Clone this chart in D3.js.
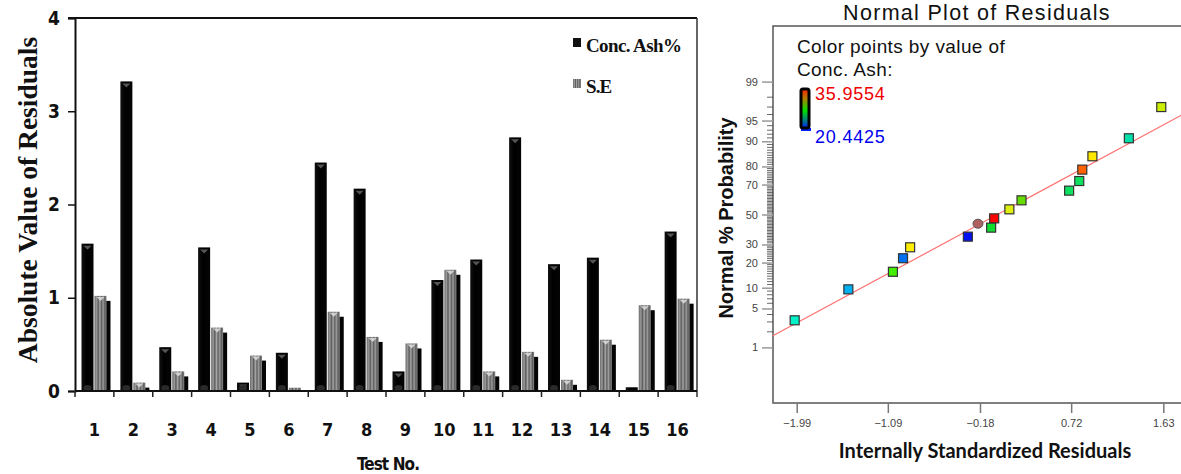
<!DOCTYPE html>
<html>
<head>
<meta charset="utf-8">
<script src="https://cdn.jsdelivr.net/npm/d3@7"></script>
<style>
  body { margin: 0; background: #fff; }
  svg { display: block; }
</style>
</head>
<body>
<svg id="chart"></svg>
<script>
// ---------- left chart data ----------
const testNo = ["1","2","3","4","5","6","7","8","9","10","11","12","13","14","15","16"];
const concAsh = [1.58, 3.32, 0.47, 1.54, 0.09, 0.41, 2.45, 2.17, 0.21, 1.19, 1.41, 2.72, 1.36, 1.43, 0.04, 1.71];
const seVals  = [1.02, 0.09, 0.21, 0.68, 0.38, 0.035, 0.85, 0.58, 0.51, 1.30, 0.21, 0.42, 0.12, 0.55, 0.92, 0.99];
const yTicksLeft = [0, 1, 2, 3, 4];

// ---------- right chart data ----------
const resid    = [1.61, 1.29, 0.93, 0.83, 0.80, 0.70, 0.23, 0.11, -0.04, -0.20, -0.07, -0.30, -0.87, -0.94, -1.04, -1.48, -2.01];
const normProb = [97.0, 90.9, 84.6, 78.4, 72.1, 66.2, 59.8, 53.6, 47.3, 43.6, 40.9, 34.9, 28.3, 22.2, 15.8, 9.5, 3.2];
const ptColor  = ["#ccee00","#00e0a8","#ffe800","#ff6000","#10e060","#10e060","#66dd00","#ddee10","#ff0000","#b06060","#10dd30","#0010ee","#ffee00","#0070f0","#44ee00","#00b0f0","#00f0c8"];
const ptShape  = ["s","s","s","s","s","s","s","s","s","c","s","s","s","s","s","s","s"];
const fitResid = [-2.23, 1.81];
const fitProb  = [1.67, 95.9];
const probTicks = [1, 5, 10, 20, 30, 50, 70, 80, 90, 95, 99];
const residTicks = [-1.99, -1.09, -0.18, 0.72, 1.63];
const colorMax = "35.9554", colorMin = "20.4425";

// inverse normal cdf (Acklam)
function probit(p) {
  const a = [-39.69683028665376, 220.9460984245205, -275.9285104469687, 138.3577518672690, -30.66479806614716, 2.506628277459239];
  const b = [-54.47609879822406, 161.5858368580409, -155.6989798598866, 66.80131188771972, -13.28068155288572];
  const c = [-0.007784894002430293, -0.3223964580411365, -2.400758277161838, -2.549732539343734, 4.374664141464968, 2.938163982698783];
  const d = [0.007784695709041462, 0.3224671290700398, 2.445134137142996, 3.754408661907416];
  const pl = 0.02425;
  let q, r;
  if (p < pl) {
    q = Math.sqrt(-2 * Math.log(p));
    return (((((c[0]*q+c[1])*q+c[2])*q+c[3])*q+c[4])*q+c[5]) / ((((d[0]*q+d[1])*q+d[2])*q+d[3])*q+1);
  } else if (p <= 1 - pl) {
    q = p - 0.5; r = q*q;
    return (((((a[0]*r+a[1])*r+a[2])*r+a[3])*r+a[4])*r+a[5])*q / (((((b[0]*r+b[1])*r+b[2])*r+b[3])*r+b[4])*r+1);
  } else {
    q = Math.sqrt(-2 * Math.log(1 - p));
    return -(((((c[0]*q+c[1])*q+c[2])*q+c[3])*q+c[4])*q+c[5]) / ((((d[0]*q+d[1])*q+d[2])*q+d[3])*q+1);
  }
}

const svg = d3.select("#chart").attr("width", 1181).attr("height", 474);
const defs = svg.append("defs");

// striped gray for S.E bars
const grayGrad = defs.append("linearGradient").attr("id", "grayStripe").attr("x1", 0).attr("x2", 1).attr("y1", 0).attr("y2", 0);
[["0%","#6a6a6a"],["18%","#9a9a9a"],["30%","#5a5a5a"],["45%","#a8a8a8"],["58%","#606060"],["72%","#9c9c9c"],["86%","#5c5c5c"],["100%","#8a8a8a"]]
  .forEach(s => grayGrad.append("stop").attr("offset", s[0]).attr("stop-color", s[1]));

const blackGrad = defs.append("linearGradient").attr("id", "blackBar").attr("x1", 0).attr("x2", 1).attr("y1", 0).attr("y2", 0);
[["0%","#111"],["40%","#000"],["100%","#050505"]]
  .forEach(s => blackGrad.append("stop").attr("offset", s[0]).attr("stop-color", s[1]));

// ================= LEFT: bar chart =================
const xL = d3.scaleBand().domain(testNo).range([75, 697]);
const yL = d3.scaleLinear().domain([0, 4]).range([391, 18]);
const bw = 12;

const left = svg.append("g");

// frame top + right
left.append("line").attr("x1", 68).attr("x2", 697).attr("y1", yL(4)).attr("y2", yL(4))
  .attr("stroke", "#111").attr("stroke-width", 2);
left.append("line").attr("x1", 697).attr("x2", 697).attr("y1", yL(4)).attr("y2", yL(0) + 6)
  .attr("stroke", "#333").attr("stroke-width", 1.5);

// shadows of gray bars
left.selectAll(".se-shadow").data(seVals).join("rect")
  .attr("x", (d, i) => xL(testNo[i]) + 19.5 + bw - 1)
  .attr("y", d => Math.min(yL(d) + 5, yL(0) - 1))
  .attr("width", 5)
  .attr("height", d => Math.max(yL(0) - yL(d) - 5, 1))
  .attr("fill", "#050505");

// gray bars
left.selectAll(".se-bar").data(seVals).join("rect")
  .attr("x", (d, i) => xL(testNo[i]) + 19.5)
  .attr("y", d => yL(d))
  .attr("width", bw)
  .attr("height", d => yL(0) - yL(d))
  .attr("fill", "url(#grayStripe)");

left.selectAll(".se-tri").data(seVals).join("path")
  .attr("d", (d, i) => {
    const cx = xL(testNo[i]) + 19.5 + bw / 2, t = yL(d) + 1;
    return `M${cx - 4},${t}L${cx + 4},${t}L${cx},${t + 4}Z`;
  })
  .attr("fill", "#d8d8d8")
  .attr("opacity", d => yL(0) - yL(d) > 6 ? 0.9 : 0);

// black bars
left.selectAll(".ash-bar").data(concAsh).join("rect")
  .attr("x", (d, i) => xL(testNo[i]) + 6.5)
  .attr("y", d => yL(d))
  .attr("width", bw)
  .attr("height", d => yL(0) - yL(d))
  .attr("fill", "url(#blackBar)");

left.selectAll(".ash-tri").data(concAsh).join("path")
  .attr("d", (d, i) => {
    const cx = xL(testNo[i]) + 6.5 + bw / 2, t = yL(d) + 2;
    return `M${cx - 4},${t}L${cx + 4},${t}L${cx},${t + 4}Z`;
  })
  .attr("fill", "#555")
  .attr("opacity", d => yL(0) - yL(d) > 8 ? 1 : 0);

left.selectAll(".ash-base").data(concAsh).join("ellipse")
  .attr("cx", (d, i) => xL(testNo[i]) + 6.5 + bw / 2)
  .attr("cy", yL(0) - 3)
  .attr("rx", 4).attr("ry", 3)
  .attr("fill", "#2a2a2a")
  .attr("opacity", d => yL(0) - yL(d) > 8 ? 1 : 0);

// y axis
const yAxisL = left.append("g").attr("transform", "translate(75,0)")
  .call(d3.axisLeft(yL).tickValues(yTicksLeft).tickSize(7).tickPadding(8).tickFormat(d3.format("d")));
yAxisL.select(".domain").attr("stroke", "#111").attr("stroke-width", 2);
yAxisL.selectAll(".tick line").attr("stroke", "#111").attr("stroke-width", 1.5);
yAxisL.selectAll("text")
  .attr("font-family", "'Liberation Sans Narrow', 'DejaVu Sans Condensed', sans-serif")
  .attr("font-weight", "bold").attr("font-size", 19).attr("fill", "#111");

// x axis: line + ticks at band edges
const xAxisL = left.append("g");
xAxisL.append("line").attr("x1", 75).attr("x2", 697).attr("y1", yL(0)).attr("y2", yL(0))
  .attr("stroke", "#111").attr("stroke-width", 2);
xAxisL.selectAll(".edge").data(testNo).join("line")
  .attr("x1", d => xL(d)).attr("x2", d => xL(d))
  .attr("y1", yL(0)).attr("y2", yL(0) + 6)
  .attr("stroke", "#222").attr("stroke-width", 1.5);
xAxisL.selectAll(".lbl").data(testNo).join("text")
  .attr("x", d => xL(d) + xL.bandwidth() / 2)
  .attr("y", 436)
  .attr("text-anchor", "middle")
  .attr("font-family", "'Liberation Sans Narrow', 'DejaVu Sans Condensed', sans-serif")
  .attr("font-weight", "bold").attr("font-size", 18).attr("fill", "#111")
  .text(d => d);

left.append("text")
  .attr("x", 388).attr("y", 470)
  .attr("text-anchor", "middle")
  .attr("font-family", "'DejaVu Sans Condensed', 'Liberation Sans Narrow', sans-serif")
  .attr("font-weight", "bold").attr("font-size", 17).attr("letter-spacing", -0.9).attr("fill", "#111")
  .text("Test No.");

left.append("text")
  .attr("transform", "translate(37,200) rotate(-90)")
  .attr("text-anchor", "middle")
  .attr("font-family", "'Liberation Serif', 'Times New Roman', serif")
  .attr("font-weight", "bold").attr("font-size", 27.5).attr("fill", "#111")
  .text("Absolute Value of Residuals");

// legend
const legL = left.append("g");
legL.append("rect").attr("x", 573).attr("y", 38).attr("width", 8).attr("height", 9).attr("fill", "#111");
legL.append("rect").attr("x", 573).attr("y", 79).attr("width", 8).attr("height", 9).attr("fill", "url(#grayStripe)");
legL.append("text").attr("x", 586).attr("y", 52)
  .attr("font-family", "'Liberation Serif', serif").attr("font-weight", "bold").attr("font-size", 19)
  .attr("letter-spacing", -0.6).attr("fill", "#111").text("Conc. Ash%");
legL.append("text").attr("x", 586).attr("y", 93)
  .attr("font-family", "'Liberation Serif', serif").attr("font-weight", "bold").attr("font-size", 19)
  .attr("letter-spacing", -0.9).attr("fill", "#111").text("S.E");

// ================= RIGHT: normal plot =================
const xR = d3.scaleLinear().domain([-1.99, 1.63]).range([796.7, 1163.3]);
const yR = d3.scaleLinear().domain([-3.3, 3.3]).range([403, 26]);
const py = p => yR(probit(p / 100));

const right = svg.append("g");
const fr = { l: 773, t: 26, b: 403, r: 1181 };

right.append("text")
  .attr("x", 977).attr("y", 20)
  .attr("text-anchor", "middle")
  .attr("font-family", "'Liberation Sans', Arial, sans-serif")
  .attr("font-size", 21.5).attr("letter-spacing", 1.3).attr("fill", "#111")
  .text("Normal Plot of Residuals");

// frame
right.append("path")
  .attr("d", `M${fr.r},${fr.t}H${fr.l}V${fr.b}H${fr.r}`)
  .attr("fill", "none").attr("stroke", "#555").attr("stroke-width", 1.5);

// minor ticks every 1%
const minor = d3.range(1, 100).filter(v => !probTicks.includes(v));
right.selectAll(".minor").data(minor).join("line")
  .attr("x1", fr.l - 6).attr("x2", fr.l)
  .attr("y1", d => py(d)).attr("y2", d => py(d))
  .attr("stroke", "#444").attr("stroke-width", 0.8);

const yAxisR = right.append("g").attr("transform", `translate(${fr.l},0)`)
  .call(d3.axisLeft(yR).tickValues(probTicks.map(p => probit(p / 100))).tickSize(11).tickPadding(4)
    .tickFormat((d, i) => probTicks[i]));
yAxisR.select(".domain").remove();
yAxisR.selectAll(".tick line").attr("stroke", "#999").attr("stroke-width", 1.5);
yAxisR.selectAll("text").attr("font-family", "'Liberation Sans', Arial, sans-serif")
  .attr("font-size", 11).attr("fill", "#444");

const xAxisR = right.append("g").attr("transform", `translate(0,${fr.b})`)
  .call(d3.axisBottom(xR).tickValues(residTicks).tickSize(10).tickPadding(6).tickFormat(d3.format(".2f")));
xAxisR.select(".domain").remove();
xAxisR.selectAll(".tick line").attr("stroke", "#777").attr("stroke-width", 1.5);
xAxisR.selectAll("text").attr("font-family", "'Liberation Sans', Arial, sans-serif")
  .attr("font-size", 11).attr("fill", "#444");

right.append("text")
  .attr("transform", "translate(733,218) rotate(-90)")
  .attr("text-anchor", "middle")
  .attr("font-family", "'Liberation Sans', Arial, sans-serif")
  .attr("font-weight", "bold").attr("font-size", 20).attr("fill", "#111")
  .text("Normal % Probability");

right.append("text")
  .attr("x", 985).attr("y", 458)
  .attr("text-anchor", "middle")
  .attr("font-family", "Lato, 'Open Sans', sans-serif")
  .attr("font-weight", "bold").attr("font-size", 20).attr("fill", "#111")
  .text("Internally Standardized Residuals");

// fit line
right.append("line")
  .attr("x1", xR(fitResid[0])).attr("y1", py(fitProb[0]))
  .attr("x2", xR(fitResid[1])).attr("y2", py(fitProb[1]))
  .attr("stroke", "#ff7070").attr("stroke-width", 1.2);

// points
const pts = right.append("g");
resid.forEach((r, i) => {
  const cx = xR(r), cy = py(normProb[i]);
  if (ptShape[i] === "c") {
    pts.append("ellipse").attr("cx", cx).attr("cy", cy).attr("rx", 5).attr("ry", 4.5)
      .attr("fill", ptColor[i]).attr("stroke", "#555").attr("stroke-width", 1);
  } else {
    pts.append("rect").attr("x", cx - 4.5).attr("y", cy - 4.5).attr("width", 9).attr("height", 9)
      .attr("fill", ptColor[i]).attr("stroke", "#333").attr("stroke-width", 1.2);
  }
});

// colour legend
right.append("text").attr("x", 797).attr("y", 53)
  .attr("font-family", "'Liberation Sans', Arial, sans-serif").attr("font-size", 19).attr("letter-spacing", 0.4).attr("fill", "#111")
  .text("Color points by value of");
right.append("text").attr("x", 797).attr("y", 76)
  .attr("font-family", "'Liberation Sans', Arial, sans-serif").attr("font-size", 19).attr("letter-spacing", 0.4).attr("fill", "#111")
  .text("Conc. Ash:");

const cbGrad = defs.append("linearGradient").attr("id", "cb").attr("x1", 0).attr("x2", 0).attr("y1", 0).attr("y2", 1);
[["0%","#ff2000"],["25%","#b08000"],["55%","#00e000"],["80%","#008080"],["100%","#0020ff"]]
  .forEach(s => cbGrad.append("stop").attr("offset", s[0]).attr("stop-color", s[1]));
right.append("rect").attr("x", 801).attr("y", 128).attr("width", 10).attr("height", 3).attr("fill", "#0020ff");
right.append("rect").attr("x", 801).attr("y", 89).attr("width", 8).attr("height", 39)
  .attr("fill", "url(#cb)").attr("stroke", "#000").attr("stroke-width", 3).attr("rx", 2);
right.append("text").attr("x", 815).attr("y", 100)
  .attr("font-family", "'Liberation Sans', Arial, sans-serif").attr("font-size", 18).attr("letter-spacing", 0.8).attr("fill", "#ee0000")
  .text(colorMax);
right.append("text").attr("x", 815).attr("y", 143)
  .attr("font-family", "'Liberation Sans', Arial, sans-serif").attr("font-size", 18).attr("letter-spacing", 0.8).attr("fill", "#0000ee")
  .text(colorMin);
</script>
</body>
</html>
